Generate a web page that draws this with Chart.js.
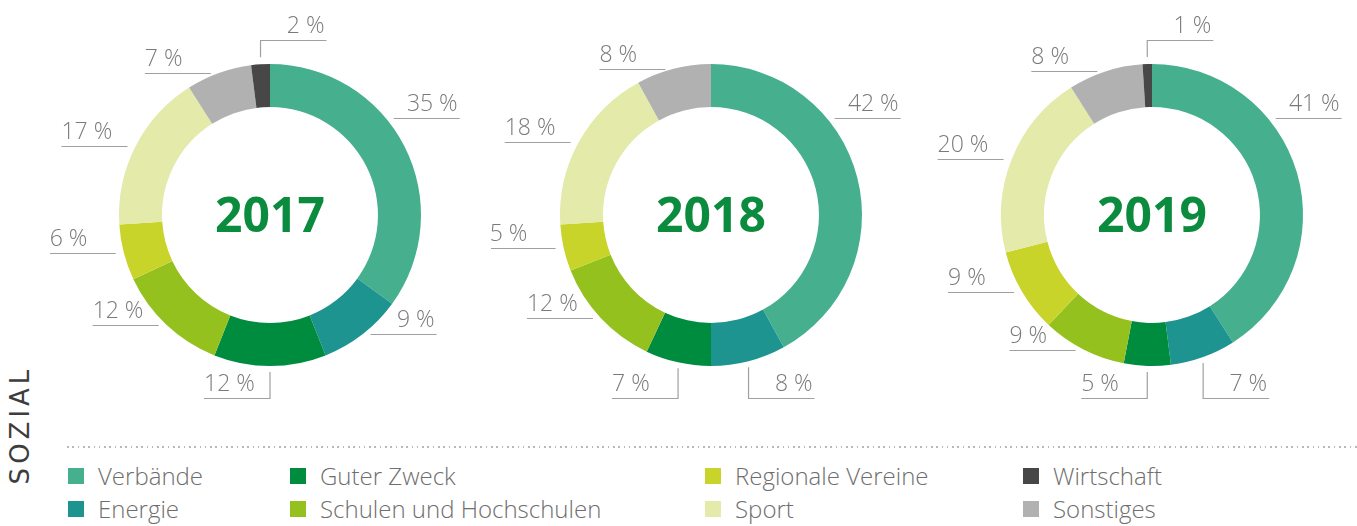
<!DOCTYPE html>
<html lang="de">
<head>
<meta charset="utf-8">
<title>Sozial – Verteilung 2017–2019</title>
<script src="https://cdn.jsdelivr.net/npm/chart.js@4"></script>
<style>
  html, body { margin: 0; padding: 0; background: #fff; }
  body { width: 1357px; height: 526px; position: relative; overflow: hidden; font-family: "Open Sans", sans-serif; }
  .donut { position: absolute; top: 0; }
  #sozial {
    position: absolute; left: -50px; top: 410px; width: 140px; height: 30px;
    line-height: 30px; text-align: center; transform: rotate(-90deg);
    font-family: "DejaVu Sans", sans-serif; font-size: 26px; letter-spacing: 4px; color: #3d3d3d;
  }
  #trenner {
    position: absolute; left: 67px; top: 446px; width: 1290px; height: 2px;
    background-image: repeating-linear-gradient(to right, #b8b8b8 0 1.6px, transparent 1.6px 5.3px);
  }
  .leg { position: absolute; font-size: 24px; font-weight: 300; color: #6e6e6e; white-space: nowrap; line-height: 24px; }
  .leg i { position: absolute; left: 0; top: 4px; width: 16px; height: 16px; }
  .leg span { position: absolute; left: 30px; top: 0; }
</style>
</head>
<body>
<canvas id="c2017" class="donut" width="440" height="430" style="left:50px"></canvas>
<canvas id="c2018" class="donut" width="440" height="430" style="left:491px"></canvas>
<canvas id="c2019" class="donut" width="440" height="430" style="left:932px"></canvas>
<div id="sozial">SOZIAL</div>
<div id="trenner"></div>
<div id="legende"></div>

<script>
// Werte aus der Grafik (Anteile in %), Reihenfolge im Uhrzeigersinn ab 12 Uhr
const jahre = ['2017', '2018', '2019'];
const kategorien = ['Verbände', 'Energie', 'Guter Zweck', 'Schulen und Hochschulen', 'Regionale Vereine', 'Sport', 'Sonstiges', 'Wirtschaft'];
const werte2017 = [35, 9, 12, 12, 6, 17, 7, 2];
const werte2018 = [42, 8, 7, 12, 5, 18, 8, 0];
const werte2019 = [41, 7, 5, 9, 9, 20, 8, 1];
const legendenReihenfolge = ['Verbände', 'Energie', 'Guter Zweck', 'Schulen und Hochschulen', 'Regionale Vereine', 'Sport', 'Wirtschaft', 'Sonstiges'];

const farben = ['#46b08e', '#1e9490', '#008c3f', '#95c11f', '#c9d42b', '#e3eaaa', '#b1b1b1', '#474747'];
const legendeSpalten = [68, 290, 705, 1023];

const grad = Math.PI / 180;

// Beschriftungen mit Hinweislinien + Jahreszahl in der Mitte
const beschriftung = {
  id: 'beschriftung',
  afterDraw(chart) {
    const ctx = chart.ctx;
    const meta = chart.getDatasetMeta(0);
    const daten = chart.data.datasets[0].data;
    ctx.save();
    ctx.strokeStyle = '#a0a0a0';
    ctx.lineWidth = 1.2;
    ctx.fillStyle = '#7a7a7a';
    ctx.font = '300 23px "Open Sans"';
    ctx.textBaseline = 'alphabetic';

    meta.data.forEach((arc, i) => {
      if (!daten[i]) return;
      const p = arc.getProps(['x', 'y', 'startAngle', 'endAngle', 'outerRadius'], true);
      let a = (p.startAngle + p.endAngle) / 2;
      if (p.endAngle - p.startAngle > 100 * grad) a = p.startAngle + 50 * grad;
      const deg = ((a / grad + 90) % 360 + 360) % 360;
      const r = p.outerRadius;
      const ex = p.x + r * Math.cos(a);
      const ey = p.y + r * Math.sin(a);
      let pts, tx, ty, align;

      if (Math.abs(deg - 180) < 25) {
        const dir = deg < 179 ? 1 : -1;
        const yEnd = Math.round(p.y + r + 32) + 0.5;
        pts = [[ex, ey + 6], [ex, yEnd], [ex + dir * 66, yEnd]];
        tx = dir > 0 ? ex + 64 : ex - 66;
        ty = yEnd - 8;
        align = dir > 0 ? 'right' : 'left';
      } else if (deg > 350 || deg < 10) {
        const yEnd = Math.round(p.y - r - 24) + 0.5;
        pts = [[ex, ey - 7], [ex, yEnd], [ex + 66, yEnd]];
        tx = ex + 64;
        ty = yEnd - 8;
        align = 'right';
      } else {
        const dir = Math.cos(a) >= 0 ? 1 : -1;
        const sx = ex + dir * 8;
        const yl = Math.round(ey) + 0.5;
        pts = [[sx, yl], [sx + dir * 66, yl]];
        tx = dir > 0 ? sx + 64 : sx - 66;
        ty = yl - 8;
        align = dir > 0 ? 'right' : 'left';
      }

      ctx.beginPath();
      pts.forEach(([x, y], k) => k ? ctx.lineTo(x, y) : ctx.moveTo(x, y));
      ctx.stroke();
      ctx.textAlign = align;
      ctx.fillText(daten[i] + ' %', tx, ty);
    });

    const mitte = meta.data[0];
    ctx.fillStyle = '#0b8b3d';
    ctx.font = 'bold 48px "Open Sans"';
    ctx.textAlign = 'center';
    ctx.fillText(chart.options.plugins.jahr, mitte.x, mitte.y + 17);
    ctx.restore();
  }
};

function zeichneRing(id, jahr, werte) {
  return new Chart(document.getElementById(id), {
    type: 'doughnut',
    data: {
      labels: kategorien,
      datasets: [{
        data: werte,
        backgroundColor: farben,
        borderWidth: 0
      }]
    },
    options: {
      responsive: false,
      animation: false,
      events: [],
      cutout: '71.5%',
      layout: { padding: 64 },
      plugins: {
        jahr: jahr,
        legend: { display: false },
        tooltip: { enabled: false }
      }
    },
    plugins: [beschriftung]
  });
}

zeichneRing('c2017', jahre[0], werte2017);
zeichneRing('c2018', jahre[1], werte2018);
zeichneRing('c2019', jahre[2], werte2019);

// Legende: zwei Zeilen, spaltenweise gefüllt
const legende = document.getElementById('legende');
legendenReihenfolge.forEach((name, k) => {
  const el = document.createElement('div');
  el.className = 'leg';
  el.style.left = legendeSpalten[Math.floor(k / 2)] + 'px';
  el.style.top = (k % 2 ? 497 : 464) + 'px';
  const box = document.createElement('i');
  box.style.background = farben[kategorien.indexOf(name)];
  const txt = document.createElement('span');
  txt.textContent = name;
  el.appendChild(box);
  el.appendChild(txt);
  legende.appendChild(el);
});
</script>
</body>
</html>
